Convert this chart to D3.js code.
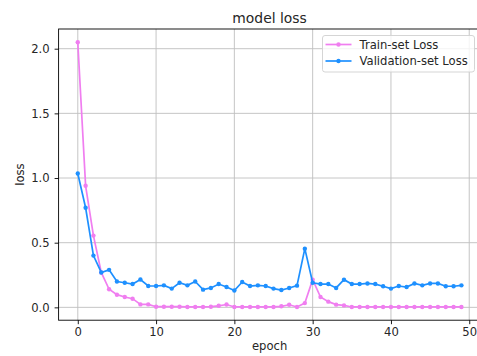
<!DOCTYPE html>
<html lang="en">
<head>
    <meta charset="UTF-8">
    <title>model loss</title>
    <script src="https://d3js.org/d3.v7.min.js"></script>
    <style>
        body { margin: 0; background: #fff; }
        text { font-family: "DejaVu Sans", sans-serif; fill: #262626; }
    </style>
</head>
<body>
<script>
    // loss per epoch
    const trainLoss = [2.05, 0.94, 0.555, 0.27, 0.14, 0.098, 0.08, 0.067, 0.023, 0.023,
        0.005, 0.005, 0.005, 0.005, 0.003, 0.003, 0.003, 0.005, 0.012, 0.022,
        0.003, 0.003, 0.003, 0.003, 0.003, 0.003, 0.008, 0.02, 0.003, 0.033,
        0.214, 0.08, 0.044, 0.021, 0.015, 0.003, 0.003, 0.003, 0.003, 0.003,
        0.003, 0.003, 0.003, 0.003, 0.003, 0.003, 0.003, 0.003, 0.003, 0.003];
    const valLoss = [1.035, 0.77, 0.40, 0.27, 0.29, 0.20, 0.19, 0.18, 0.215, 0.165,
        0.165, 0.17, 0.145, 0.19, 0.17, 0.20, 0.137, 0.15, 0.18, 0.157,
        0.13, 0.196, 0.165, 0.17, 0.165, 0.145, 0.134, 0.15, 0.168, 0.454,
        0.19, 0.18, 0.18, 0.15, 0.214, 0.18, 0.18, 0.185, 0.18, 0.163,
        0.145, 0.165, 0.157, 0.185, 0.17, 0.185, 0.185, 0.163, 0.163, 0.17];
    const xTicks = [0, 10, 20, 30, 40, 50];
    const yTicks = [0.0, 0.5, 1.0, 1.5, 2.0];
    const seriesNames = ["Train-set Loss", "Validation-set Loss"];
    const seriesColors = ["#f07ef0", "#1e90ff"];

    const width = 477, height = 356;
    const mLeft = 58.6, mRight = 480.6, mTop = 29, mBottom = 320.2;
    const fs = 11.6;

    const svg = d3.select("body").append("svg").attr("width", width).attr("height", height);

    const n = trainLoss.length;
    const xPad = (n - 1) * 0.05;
    const x = d3.scaleLinear().domain([-xPad, n - 1 + xPad]).range([mLeft, mRight]);
    const all = trainLoss.concat(valLoss);
    const lo = d3.min(all), hi = d3.max(all), yPad = (hi - lo) * 0.05;
    const y = d3.scaleLinear().domain([lo - yPad, hi + yPad]).range([mBottom, mTop]);

    // grid
    const grid = svg.append("g").attr("stroke", "#b0b0b0").attr("stroke-width", 0.9).attr("opacity", 0.8);
    grid.selectAll(".gx").data(xTicks).enter().append("line")
        .attr("x1", d => x(d)).attr("x2", d => x(d)).attr("y1", mTop).attr("y2", mBottom);
    grid.selectAll(".gy").data(yTicks).enter().append("line")
        .attr("y1", d => y(d)).attr("y2", d => y(d)).attr("x1", mLeft).attr("x2", mRight);

    // axes
    const xAxis = svg.append("g").attr("transform", `translate(0,${mBottom})`)
        .call(d3.axisBottom(x).tickValues(xTicks).tickSize(4).tickPadding(4).tickFormat(d3.format("d")));
    const yAxis = svg.append("g").attr("transform", `translate(${mLeft},0)`)
        .call(d3.axisLeft(y).tickValues(yTicks).tickSize(4).tickPadding(5).tickFormat(d3.format(".1f")));
    [xAxis, yAxis].forEach(a => {
        a.select(".domain").remove();
        a.selectAll("line").attr("stroke", "#000").attr("stroke-width", 0.9);
        a.selectAll("text").attr("font-size", fs).attr("font-family", "DejaVu Sans").attr("fill", "#262626");
    });

    // plot frame
    svg.append("rect").attr("x", mLeft).attr("y", mTop).attr("width", mRight - mLeft).attr("height", mBottom - mTop)
        .attr("fill", "none").attr("stroke", "#000").attr("stroke-width", 0.9);

    // series
    const line = d3.line().x((d, i) => x(i)).y(d => y(d));
    [trainLoss, valLoss].forEach((s, k) => {
        const g = svg.append("g");
        g.append("path").datum(s).attr("d", line).attr("fill", "none")
            .attr("stroke", seriesColors[k]).attr("stroke-width", 1.7);
        g.selectAll("circle").data(s).enter().append("circle")
            .attr("cx", (d, i) => x(i)).attr("cy", d => y(d)).attr("r", 2.2)
            .attr("fill", seriesColors[k]);
    });

    // labels
    svg.append("text").attr("x", (mLeft + mRight) / 2).attr("y", 22.5).attr("text-anchor", "middle")
        .attr("font-size", 13.9).text("model loss");
    svg.append("text").attr("x", (mLeft + mRight) / 2).attr("y", 349.5).attr("text-anchor", "middle")
        .attr("font-size", fs).text("epoch");
    svg.append("text").attr("transform", `translate(24,${(mTop + mBottom) / 2}) rotate(-90)`)
        .attr("text-anchor", "middle").attr("font-size", fs).text("loss");

    // legend
    const lg = svg.append("g").attr("transform", "translate(322.5,35.5)");
    lg.append("rect").attr("width", 152).attr("height", 36.5).attr("rx", 2.5)
        .attr("fill", "#fff").attr("fill-opacity", 0.8).attr("stroke", "#d0d0d0").attr("stroke-width", 0.9);
    seriesNames.forEach((name, k) => {
        const row = lg.append("g").attr("transform", `translate(0,${9 + k * 16.5})`);
        row.append("line").attr("x1", 3).attr("x2", 29).attr("stroke", seriesColors[k]).attr("stroke-width", 1.7);
        row.append("circle").attr("cx", 16).attr("r", 2.2).attr("fill", seriesColors[k]);
        row.append("text").attr("x", 37).attr("dy", "0.35em").attr("font-size", fs).text(name);
    });
</script>
</body>
</html>
